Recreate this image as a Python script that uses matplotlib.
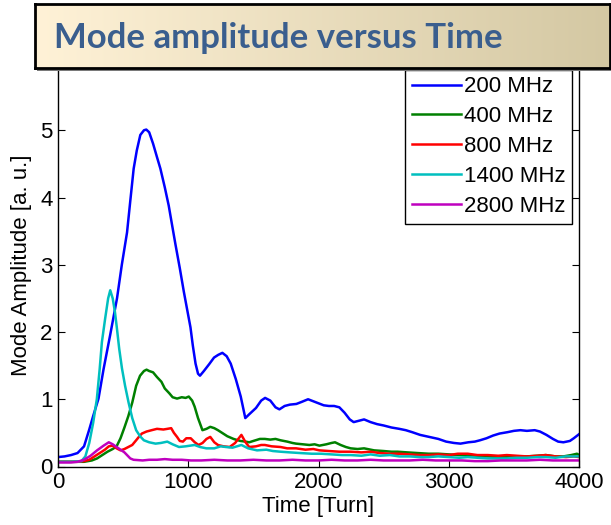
import numpy as np
import matplotlib
matplotlib.use("Agg")
import matplotlib.pyplot as plt
from matplotlib.patches import Rectangle

# values (turn, amplitude)
t_200 = [0, 50, 100, 150, 200, 240, 270, 311, 350, 400, 453, 490, 530, 555, 581, 605, 632, 660, 678, 700,
         730, 760, 786, 820, 850, 875, 902, 935, 966, 990, 1017, 1035, 1056, 1075, 1090, 1120, 1160, 1198,
         1230, 1262, 1295, 1326, 1365, 1403, 1438, 1470, 1520, 1560, 1590, 1630, 1670, 1700, 1740, 1780,
         1830, 1870, 1920, 1960, 2000, 2040, 2080, 2120, 2160, 2200, 2240, 2270, 2310, 2350, 2400, 2450,
         2500, 2560, 2620, 2670, 2720, 2780, 2850, 2920, 2980, 3040, 3090, 3150, 3200, 3240, 3290, 3340,
         3390, 3450, 3500, 3550, 3600, 3660, 3700, 3750, 3800, 3840, 3880, 3930, 3960, 4000]
a_200 = [0.14, 0.15, 0.17, 0.2, 0.3, 0.55, 0.75, 1.01, 1.45, 1.95, 2.5, 3.0, 3.48, 3.95, 4.43, 4.7, 4.93,
         5.0, 5.01, 4.97, 4.8, 4.6, 4.43, 4.15, 3.88, 3.6, 3.3, 2.95, 2.6, 2.35, 2.07, 1.8, 1.53, 1.38, 1.35,
         1.42, 1.52, 1.62, 1.66, 1.69, 1.64, 1.53, 1.3, 1.04, 0.72, 0.78, 0.87, 0.98, 1.02, 0.98, 0.88, 0.85,
         0.9, 0.92, 0.93, 0.96, 1.0, 0.97, 0.94, 0.91, 0.9, 0.9, 0.88, 0.8, 0.7, 0.66, 0.68, 0.7, 0.66, 0.63,
         0.61, 0.58, 0.56, 0.54, 0.51, 0.47, 0.44, 0.41, 0.37, 0.35, 0.34, 0.36, 0.37, 0.39, 0.42, 0.46,
         0.49, 0.51, 0.53, 0.54, 0.53, 0.54, 0.52, 0.47, 0.41, 0.37, 0.36, 0.38, 0.42, 0.48]

t_400 = [0, 100, 200, 260, 300, 340, 380, 420, 450, 480, 510, 540, 570, 600, 630, 660, 680, 700, 730, 760,
         794, 820, 854, 880, 914, 950, 980, 1004, 1030, 1049, 1075, 1109, 1140, 1169, 1200, 1228, 1260, 1300,
         1348, 1400, 1440, 1468, 1500, 1550, 1588, 1630, 1670, 1708, 1760, 1800, 1828, 1880, 1930, 1970,
         2007, 2060, 2100, 2127, 2170, 2210, 2247, 2300, 2350, 2427, 2500, 2560, 2607, 2680, 2760, 2846,
         2920, 3000, 3080, 3146, 3220, 3300, 3380, 3446, 3520, 3600, 3680, 3745, 3820, 3880, 3940, 3985, 4000]
a_400 = [0.07, 0.07, 0.07, 0.09, 0.12, 0.17, 0.22, 0.26, 0.3, 0.42, 0.58, 0.75, 0.95, 1.2, 1.35, 1.42, 1.44,
         1.42, 1.4, 1.33, 1.26, 1.16, 1.09, 1.03, 1.01, 1.03, 1.02, 1.04, 0.98, 0.89, 0.72, 0.54, 0.56, 0.59,
         0.57, 0.54, 0.5, 0.45, 0.41, 0.38, 0.37, 0.36, 0.38, 0.41, 0.41, 0.4, 0.41, 0.39, 0.37, 0.35, 0.34,
         0.33, 0.32, 0.33, 0.31, 0.33, 0.35, 0.36, 0.32, 0.29, 0.27, 0.26, 0.27, 0.24, 0.23, 0.22, 0.22, 0.21,
         0.2, 0.19, 0.19, 0.18, 0.17, 0.17, 0.16, 0.15, 0.14, 0.14, 0.15, 0.15, 0.16, 0.17, 0.15, 0.15, 0.17,
         0.19, 0.17]

t_800 = [0, 100, 150, 200, 240, 280, 320, 360, 390, 420, 450, 480, 510, 540, 570, 600, 625, 644, 680, 719,
         760, 809, 840, 869, 890, 914, 935, 959, 985, 1019, 1050, 1079, 1110, 1140, 1169, 1200, 1228, 1270,
         1318, 1360, 1408, 1440, 1468, 1520, 1560, 1588, 1640, 1708, 1760, 1828, 1900, 1960, 2007, 2080, 2160,
         2247, 2330, 2400, 2470, 2547, 2620, 2700, 2780, 2846, 2920, 3000, 3070, 3146, 3220, 3300, 3380, 3446,
         3520, 3600, 3680, 3745, 3820, 3900, 3960, 4000]
a_800 = [0.07, 0.07, 0.07, 0.08, 0.1, 0.15, 0.2, 0.25, 0.3, 0.31, 0.27, 0.24, 0.26, 0.29, 0.32, 0.39, 0.45,
         0.49, 0.52, 0.54, 0.56, 0.55, 0.56, 0.57, 0.5, 0.44, 0.38, 0.37, 0.42, 0.42, 0.36, 0.32, 0.35, 0.41,
         0.44, 0.36, 0.32, 0.3, 0.29, 0.35, 0.47, 0.36, 0.29, 0.3, 0.32, 0.32, 0.3, 0.29, 0.27, 0.27, 0.25,
         0.26, 0.24, 0.23, 0.22, 0.22, 0.21, 0.22, 0.2, 0.19, 0.19, 0.18, 0.17, 0.17, 0.18, 0.17, 0.19, 0.19,
         0.17, 0.17, 0.16, 0.17, 0.16, 0.15, 0.16, 0.17, 0.15, 0.14, 0.15, 0.14]

t_1400 = [0, 100, 180, 210, 240, 270, 298, 320, 337, 362, 385, 401, 420, 437, 452, 470, 491, 515, 542, 570,
          600, 630, 659, 700, 749, 790, 839, 880, 929, 980, 1049, 1090, 1139, 1200, 1250, 1288, 1340, 1408,
          1460, 1528, 1600, 1650, 1708, 1780, 1860, 1948, 2020, 2100, 2180, 2247, 2330, 2400, 2470, 2547,
          2620, 2700, 2780, 2846, 2920, 3000, 3080, 3146, 3220, 3300, 3380, 3446, 3520, 3600, 3680, 3745,
          3820, 3900, 3960, 4000]
a_1400 = [0.07, 0.07, 0.08, 0.15, 0.35, 0.65, 1.0, 1.45, 1.85, 2.2, 2.5, 2.62, 2.5, 2.3, 2.06, 1.75, 1.46,
          1.2, 0.95, 0.72, 0.54, 0.45, 0.39, 0.36, 0.34, 0.35, 0.37, 0.33, 0.29, 0.3, 0.32, 0.29, 0.27, 0.27,
          0.3, 0.29, 0.28, 0.32, 0.27, 0.24, 0.25, 0.23, 0.22, 0.21, 0.2, 0.19, 0.19, 0.18, 0.17, 0.17, 0.16,
          0.18, 0.16, 0.17, 0.15, 0.15, 0.14, 0.14, 0.15, 0.14, 0.13, 0.14, 0.13, 0.12, 0.12, 0.12, 0.13,
          0.13, 0.14, 0.14, 0.13, 0.15, 0.15, 0.15]

t_2800 = [0, 100, 150, 200, 250, 300, 350, 390, 420, 450, 480, 510, 535, 555, 580, 650, 700, 760, 820, 880,
          950, 1020, 1100, 1200, 1300, 1400, 1500, 1600, 1700, 1800, 1900, 2000, 2100, 2200, 2300, 2400,
          2500, 2600, 2700, 2800, 2900, 3000, 3100, 3200, 3300, 3400, 3500, 3600, 3700, 3800, 3900, 4000]
a_2800 = [0.06, 0.06, 0.07, 0.1, 0.16, 0.24, 0.31, 0.36, 0.33, 0.29, 0.25, 0.21, 0.16, 0.12, 0.1, 0.09,
          0.1, 0.1, 0.11, 0.1, 0.1, 0.09, 0.09, 0.1, 0.09, 0.09, 0.1, 0.09, 0.09, 0.1, 0.09, 0.09, 0.1, 0.09,
          0.09, 0.1, 0.09, 0.09, 0.09, 0.1, 0.09, 0.09, 0.09, 0.08, 0.08, 0.09, 0.09, 0.09, 0.1, 0.09, 0.09,
          0.09]

labels = ['200 MHz', '400 MHz', '800 MHz', '1400 MHz', '2800 MHz']
colors = ['#0000ff', '#008000', '#ff0000', '#00bfbf', '#bf00bf']

plt.rcParams['font.family'] = ['Liberation Sans', 'DejaVu Sans']

fig = plt.figure(figsize=(6.11, 5.25), dpi=100)
ax = fig.add_axes([58 / 611, 1 - 466.5 / 525, 521 / 611, 403.5 / 525])

series = [(t_200, a_200), (t_400, a_400), (t_800, a_800), (t_1400, a_1400), (t_2800, a_2800)]
for (t, a), lab, c in zip(series, labels, colors):
    ax.plot(t, a, color=c, lw=1.8, label=lab)

ax.set_xlim(0, 4000)
ax.set_ylim(0, 6)
ax.set_xticks([0, 1000, 2000, 3000, 4000])
ax.set_yticks([0, 1, 2, 3, 4, 5, 6])
ax.tick_params(direction='in', top=True, right=True, length=5, labelsize=16, pad=4)
for s in ax.spines.values():
    s.set_linewidth(1.0)
ax.set_xlabel('Time [Turn]', fontsize=16, labelpad=2)
ax.set_ylabel('Mode Amplitude [a. u.]', fontsize=16, labelpad=6)

leg = ax.legend(loc='upper right', fontsize=16, fancybox=False, edgecolor='black', framealpha=1,
                handlelength=2.2, handletextpad=0.15, labelspacing=0.4, borderpad=0.3,
                borderaxespad=0.3)
leg.get_frame().set_linewidth(1.0)

# title banner
bx, by, bw, bh = 35 / 611, 1 - 68 / 525, 575 / 611, 64 / 525
fig.patches.append(Rectangle((bx + 2 / 611, by - 3 / 525), bw, bh, transform=fig.transFigure,
                             facecolor='#7a7a7a', edgecolor='none', zorder=5))
bax = fig.add_axes([bx, by, bw, bh], zorder=6)
grad = np.linspace(0, 1, 256)[None, :]
left = np.array([255, 242, 215]) / 255
right = np.array([212, 200, 163]) / 255
img = left[None, None, :] * (1 - grad[..., None]) + right[None, None, :] * grad[..., None]
bax.imshow(img, aspect='auto', extent=[0, 1, 0, 1])
bax.set_xlim(0, 1)
bax.set_ylim(0, 1)
bax.set_xticks([])
bax.set_yticks([])
for s in bax.spines.values():
    s.set_linewidth(2)
    s.set_color('black')
bax.text(19 / 575, 0.47, 'Mode amplitude versus Time', fontsize=25, fontweight='bold',
         family=['Lato', 'DejaVu Sans'], color='#3a5e8e', va='center', ha='left')

fig.savefig('out.png', dpi=100)
